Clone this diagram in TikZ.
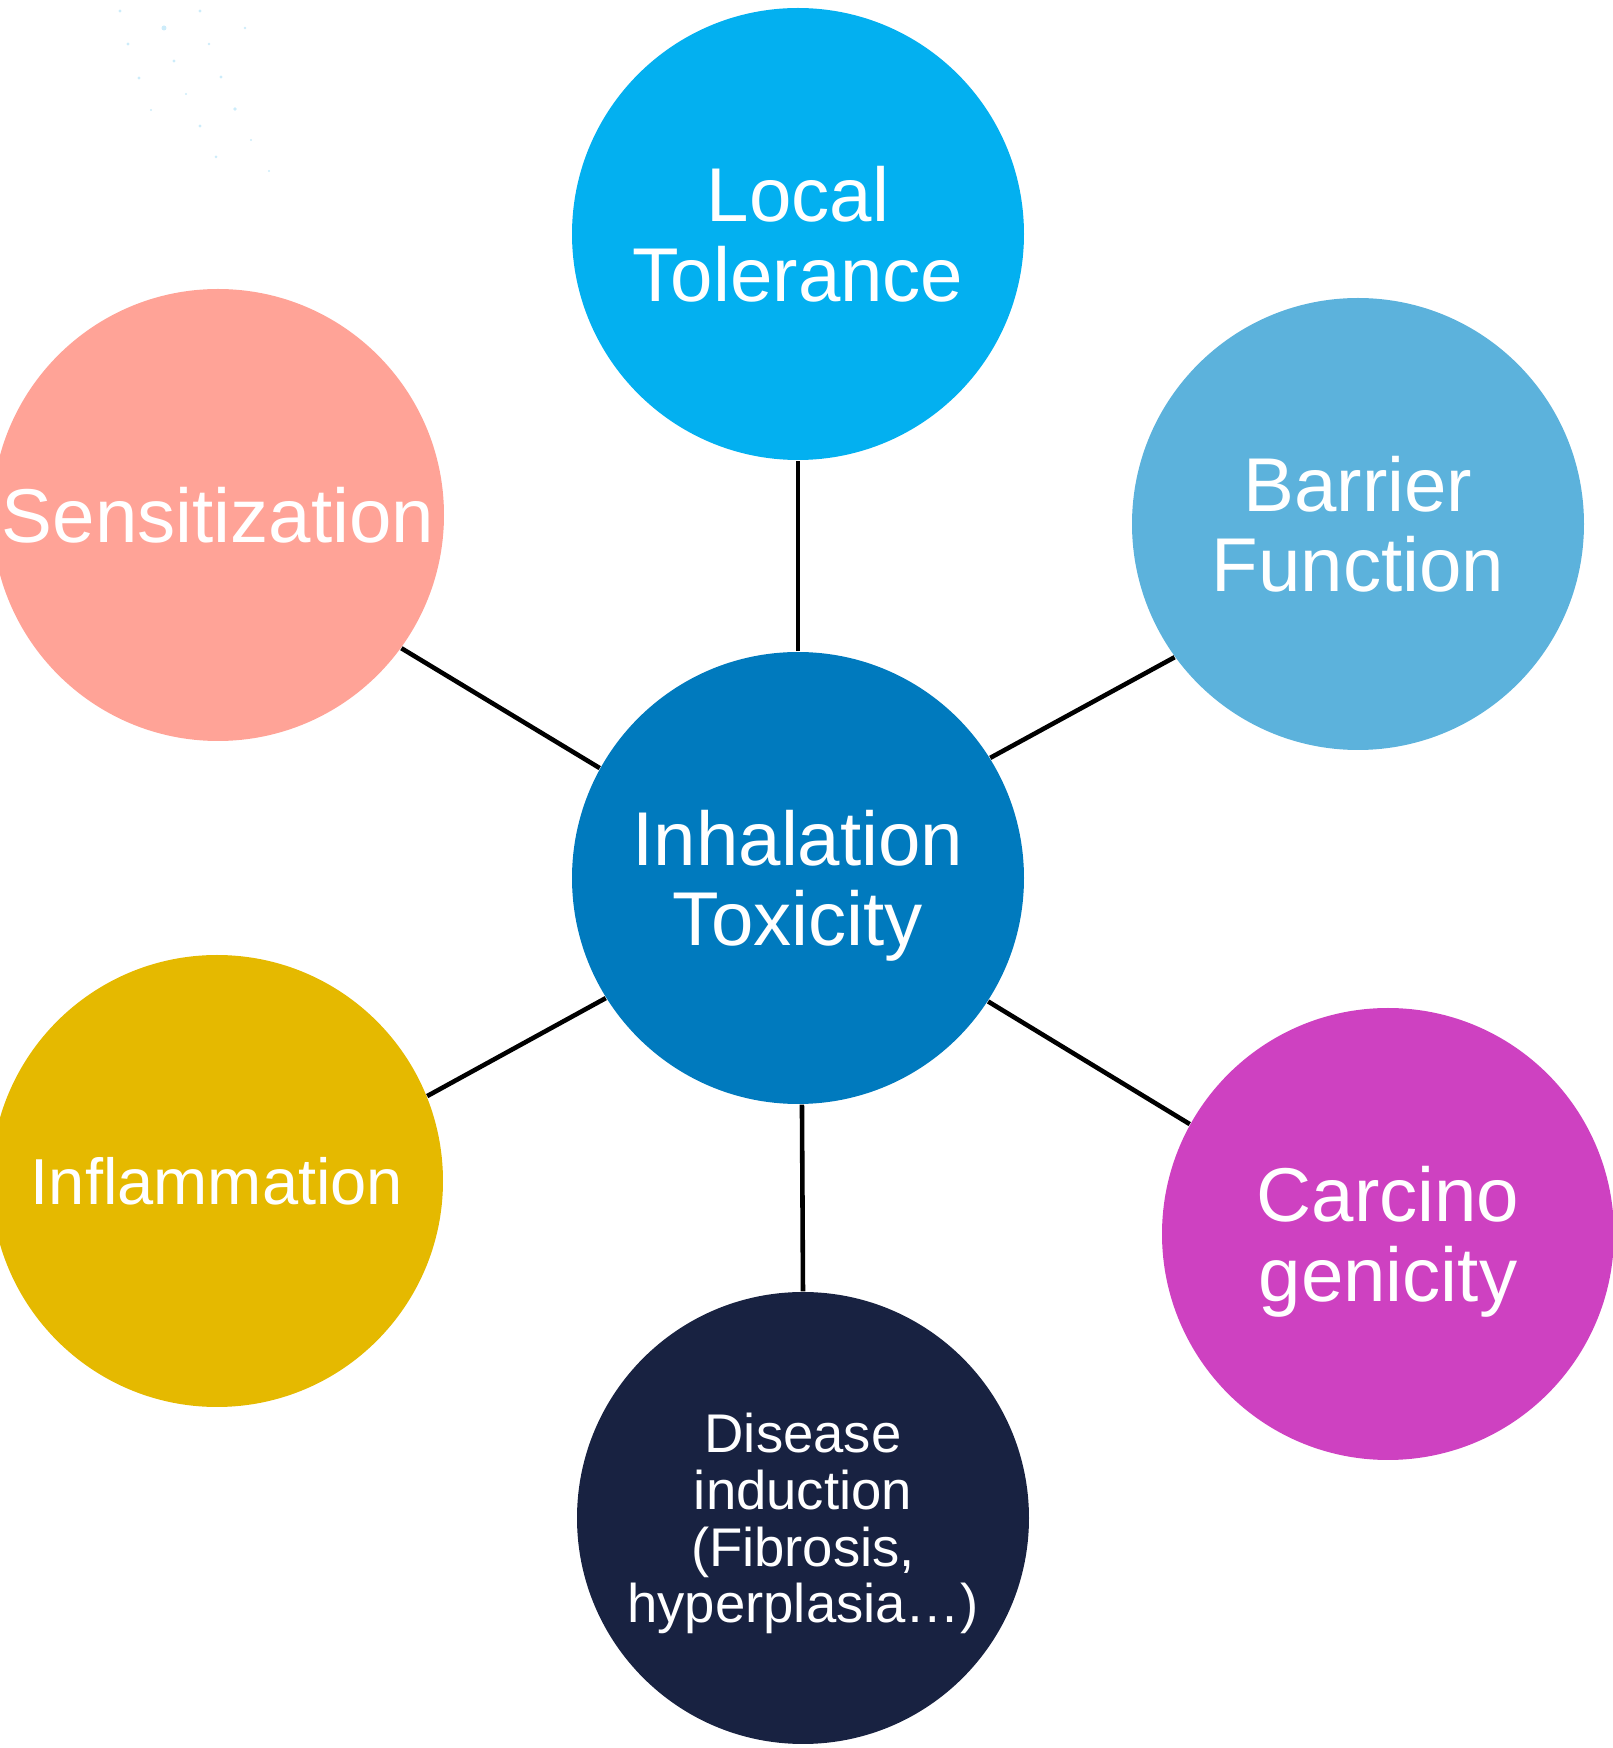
\documentclass[tikz,border=0pt]{standalone}
\usepackage{fontspec}
\setmainfont{Liberation Sans}
\usepackage{xcolor}
\usepackage{tikz}
\usetikzlibrary{positioning}

\definecolor{localblue}{RGB}{3,176,240}
\definecolor{barrierblue}{RGB}{92,178,220}
\definecolor{sensred}{RGB}{255,163,151}
\definecolor{coreblue}{RGB}{0,122,190}
\definecolor{inflyellow}{RGB}{229,185,0}
\definecolor{carcmagenta}{RGB}{206,65,193}
\definecolor{diseasenavy}{RGB}{24,34,65}
\definecolor{speck}{RGB}{205,236,250}

\begin{document}
\begin{tikzpicture}[
    bubble/.style={circle,minimum size=4.52cm,inner sep=0pt,align=center,text=white,
      text depth=0pt,font=\fontsize{21.7}{22.8}\selectfont},
    small/.style={bubble,font=\fontsize{18.5}{20}\selectfont},
    tiny/.style={bubble,font=\fontsize{15.5}{16.1}\selectfont},
    link/.style={black,line width=1.3pt}
  ]
    \useasboundingbox (0,0) rectangle (16.13,17.48);

    % faint specks in the corner
    \foreach \px/\py/\r in {1.20/17.37/0.016,2.00/17.37/0.016,1.64/17.20/0.025,2.45/17.20/0.014,
        1.28/17.04/0.016,2.09/17.04/0.013,1.74/16.87/0.016,1.39/16.70/0.016,2.21/16.71/0.016,
        1.86/16.54/0.012,1.51/16.38/0.011,2.35/16.39/0.019,2.00/16.22/0.016,2.51/16.08/0.012,
        2.16/15.91/0.015,2.69/15.77/0.011}
      \fill[speck] (\px,\py) circle (\r);

    \node[bubble,fill=coreblue] (inh) at (7.98,8.70) {Inhalation\\Toxicity};
    \node[bubble,fill=localblue] (loc) at (7.98,15.14) {Local\\Tolerance};
    \node[bubble,fill=barrierblue] (bar) at (13.58,12.24) {Barrier\\Function};
    \node[bubble,fill=sensred] (sens) at (2.18,12.33) {Sensitization};
    \node[small,fill=inflyellow] (infl) at (2.17,5.67) {Inflammation};
    \node[bubble,fill=carcmagenta] (carc) at (13.88,5.14) {Carcino\\genicity};
    \node[tiny,fill=diseasenavy] (dis) at (8.03,2.30) {Disease\\induction\\(Fibrosis,\\hyperplasia\dots)};

    \foreach \x/\y in {inh.90/loc.270,inh.32/bar.216,inh.151/sens.324,
        inh.212/infl.22,inh.327/carc.151,inh.271/dis.90}
      \draw[link] (\x) -- (\y);
\end{tikzpicture}
\end{document}
